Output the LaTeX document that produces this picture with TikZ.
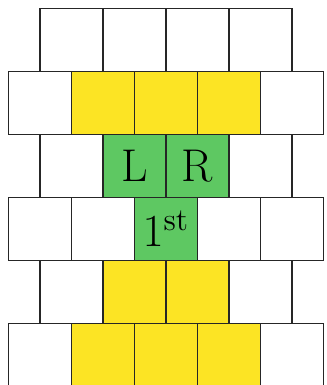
\documentclass[tikz,border=0pt]{standalone}
\usepackage{amsmath}
\usepackage{xcolor}
\usetikzlibrary{positioning}
\definecolor{cellyellow}{RGB}{252,228,36}
\definecolor{cellgreen}{RGB}{94,200,98}

\begin{document}
\begin{tikzpicture}[cell/.style={draw=black!85,line width=0.7pt,fill=white,minimum size=1cm,inner sep=0pt,font=\huge}]
\clip (-0.132,0.132) rectangle (5.043,-5.979);
% row 1
\foreach \i in {1,...,4} \node[cell] (a\i) at (\i,-0.5) {};
% row 2
\foreach \i/\f in {1/white,2/cellyellow,3/cellyellow,4/cellyellow,5/white}
  \node[cell,fill=\f] (b\i) at (\i-0.5,-1.5) {};
% row 3
\node[cell] (c1) at (1,-2.5) {};
\node[cell,fill=cellgreen] (L) at (2,-2.5) {L};
\node[cell,fill=cellgreen] (R) at (3,-2.5) {R};
\node[cell] (c4) at (4,-2.5) {};
% row 4
\foreach \i in {1,2,4,5} \node[cell] (d\i) at (\i-0.5,-3.5) {};
\node[cell,fill=cellgreen] (first) at (2.5,-3.5) {$1^{\text{st}}$};
% row 5
\foreach \i/\f in {1/white,2/cellyellow,3/cellyellow,4/white}
  \node[cell,fill=\f] (e\i) at (\i,-4.5) {};
% row 6
\foreach \i/\f in {1/white,2/cellyellow,3/cellyellow,4/cellyellow,5/white}
  \node[cell,fill=\f] (f\i) at (\i-0.5,-5.5) {};
\end{tikzpicture}
\end{document}
